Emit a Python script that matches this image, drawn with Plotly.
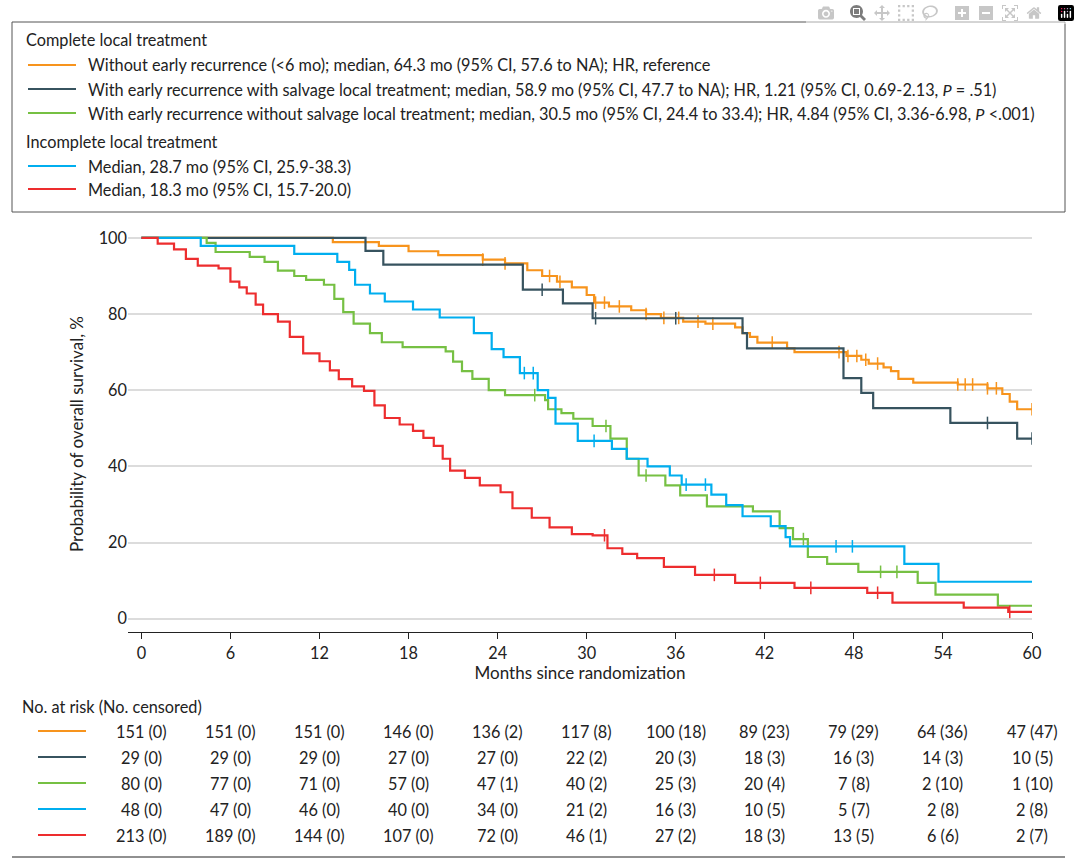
import numpy as np
import plotly.graph_objects as go

# Kaplan-Meier step points (month, survival %)
orange_t = [0, 12.9, 16, 18, 20, 23, 24.5, 26, 27, 28, 29, 30, 30.5, 31.5, 33, 34, 35, 36.5, 38, 40, 40.5, 41, 41.5, 43.5, 44, 47.5, 48.5, 49, 50, 50.5, 51, 52, 55, 57, 58, 58.5, 59, 60]
orange_s = [100, 98.9, 97.9, 96.5, 95.5, 94.3, 93.3, 91.5, 90, 88.5, 87, 85, 83, 82, 81, 80, 79, 78, 77.5, 76.5, 75, 74, 72.5, 71, 70, 69, 68, 67, 66, 65, 63, 62, 61.5, 60.5, 59, 57, 55, 55]
navy_t = [0, 15.1, 16.3, 25.7, 28.4, 30.4, 40.5, 40.8, 47.3, 48.5, 49.3, 54.5, 59, 60]
navy_s = [100, 96.6, 93, 86.4, 82.8, 78.9, 75, 71, 63.2, 59.3, 55.3, 51.4, 47.3, 47.3]
green_t = [0, 4.4, 5, 7.3, 8.3, 9.2, 10.3, 11.1, 12.3, 13, 13.6, 14.3, 15.4, 16.2, 17.6, 20.5, 21, 21.6, 22.3, 23.4, 24.5, 27.2, 27.4, 28.3, 29.1, 30.4, 31.6, 32.7, 33.5, 35.3, 36.3, 38.1, 41.2, 43, 43.9, 44.9, 46.2, 48.3, 52.3, 53.5, 57.7, 60]
green_s = [100, 98.7, 96.3, 95, 93.7, 91.4, 90, 89, 87.7, 84, 80.5, 77.5, 75, 72.6, 71.3, 70.2, 67.5, 65, 63, 60, 58.7, 57.4, 55, 54, 52.5, 50.6, 47.3, 42, 37.6, 35, 32.4, 29.5, 28.2, 23.8, 20.9, 16.2, 14.4, 12.3, 9.4, 6.3, 3.4, 3.4]
blue_t = [0, 4, 10.3, 13.2, 14, 14.4, 15.4, 16.4, 18.3, 20.1, 22.4, 23.6, 24.4, 25.5, 26.7, 27.4, 27.9, 29.4, 31.7, 32.7, 34.1, 35.6, 36.4, 38.4, 39.4, 40.5, 42.4, 43.4, 43.7, 51.4, 53.7, 60]
blue_s = [100, 97.9, 95.8, 93.7, 91.6, 87.7, 85.4, 83.3, 81.2, 79.1, 75, 70.8, 68.7, 64.5, 60, 58, 51.2, 46.7, 44.6, 42, 40, 37.6, 35.2, 32.6, 29.8, 26.9, 24.3, 21.4, 19, 14.4, 9.7, 9.7]
red_t = [0, 1.1, 2.2, 3, 3.8, 5.2, 6, 6.6, 7.1, 7.7, 8.2, 9.2, 10, 10.9, 12, 12.7, 13.3, 14.2, 15, 15.7, 16.4, 17.4, 18.3, 19, 19.7, 20.3, 20.8, 21.8, 22.8, 24.2, 25, 26.3, 27.5, 29, 30.4, 31.4, 32.4, 33.4, 35.2, 37.3, 40, 44, 48.9, 50.6, 55.4, 58.4, 60]
red_s = [100, 98.5, 97, 94.5, 92.7, 92, 88.5, 87, 85.4, 82.5, 80, 78, 74, 69.7, 67.6, 65.2, 62.9, 61, 59.8, 56, 52.7, 51, 49.3, 47.5, 45.4, 42, 38.9, 37, 35, 33.2, 29, 26.5, 24, 22.2, 21.9, 18.5, 17, 15.9, 13.6, 11.5, 9.4, 8.1, 6.8, 4.2, 2.9, 1.8, 1.8]

orange_cens = [23, 24.5, 27.5, 28.2, 30.6, 31.2, 32.2, 34, 35.2, 36.2, 37.5, 38.5, 42.5, 47, 47.6, 48.2, 48.8, 49.6, 55, 55.5, 56, 57, 57.6, 60]
navy_cens = [27, 30.6, 36, 57, 60]
green_cens = [26.5, 31.3, 34, 44.6, 49.8, 50.9]
blue_cens = [25.8, 26.4, 30.5, 36.7, 38, 46.8, 47.9]
red_cens = [31.2, 38.6, 41.7, 45.1, 49.6, 58.5]

colors = ["#f7941d", "#37535f", "#76c043", "#00aeef", "#ed2d2e"]
series = [(orange_t, orange_s, orange_cens), (navy_t, navy_s, navy_cens), (green_t, green_s, green_cens),
          (blue_t, blue_s, blue_cens), (red_t, red_s, red_cens)]

legend_titles = ["Complete local treatment", "Incomplete local treatment"]
legend_labels = [
    "Without early recurrence (<6 mo); median, 64.3 mo (95% CI, 57.6 to NA); HR, reference",
    "With early recurrence with salvage local treatment; median, 58.9 mo (95% CI, 47.7 to NA); HR, 1.21 (95% CI, 0.69-2.13, <i>P</i> = .51)",
    "With early recurrence without salvage local treatment; median, 30.5 mo (95% CI, 24.4 to 33.4); HR, 4.84 (95% CI, 3.36-6.98, <i>P</i> <.001)",
    "Median, 28.7 mo (95% CI, 25.9-38.3)",
    "Median, 18.3 mo (95% CI, 15.7-20.0)",
]

risk_times = [0, 6, 12, 18, 24, 30, 36, 42, 48, 54, 60]
risk_rows = [
    ["151 (0)", "151 (0)", "151 (0)", "146 (0)", "136 (2)", "117 (8)", "100 (18)", "89 (23)", "79 (29)", "64 (36)", "47 (47)"],
    ["29 (0)", "29 (0)", "29 (0)", "27 (0)", "27 (0)", "22 (2)", "20 (3)", "18 (3)", "16 (3)", "14 (3)", "10 (5)"],
    ["80 (0)", "77 (0)", "71 (0)", "57 (0)", "47 (1)", "40 (2)", "25 (3)", "20 (4)", "7 (8)", "2 (10)", "1 (10)"],
    ["48 (0)", "47 (0)", "46 (0)", "40 (0)", "34 (0)", "21 (2)", "16 (3)", "10 (5)", "5 (7)", "2 (8)", "2 (8)"],
    ["213 (0)", "189 (0)", "144 (0)", "107 (0)", "72 (0)", "46 (1)", "27 (2)", "18 (3)", "13 (5)", "6 (6)", "2 (7)"],
]

FONT = "Lato, sans-serif"
FS = 16.3
W, H = 1080, 866
L, R, T, B = 128, 1032, 236, 632

def px(x):
    return (x - L) / (R - L)

def py(y):
    return (B - y) / (B - T)

fig = go.Figure()
for (t, s, cens), c in zip(series, colors):
    fig.add_trace(go.Scatter(x=t, y=s, mode="lines", line=dict(color=c, width=2.2, shape="hv"),
                             showlegend=False, hoverinfo="skip"))
    ta, sa = np.array(t), np.array(s)
    cy = [sa[np.searchsorted(ta, x, side="right") - 1] for x in cens]
    fig.add_trace(go.Scatter(x=cens, y=cy, mode="markers",
                             marker=dict(symbol="line-ns", size=9, line=dict(color=c, width=1.5)),
                             showlegend=False, hoverinfo="skip"))

shapes = []
ann = []
# legend box
shapes.append(dict(type="rect", xref="paper", yref="paper", x0=px(12), x1=px(1065), y0=py(212), y1=py(22),
                   line=dict(color="#555", width=1), fillcolor="white"))
rows_y = [65, 89, 113, 166, 189]
for yy, c, lab in zip(rows_y, colors, legend_labels):
    shapes.append(dict(type="line", xref="paper", yref="paper", x0=px(28), x1=px(76), y0=py(yy), y1=py(yy),
                       line=dict(color=c, width=2.2)))
    ann.append(dict(x=px(86), y=py(yy), xref="paper", yref="paper", text=lab, showarrow=False,
                    xanchor="left", yanchor="middle", font=dict(size=FS, color="#222", family=FONT)))
for yy, title in zip([39, 141], legend_titles):
    ann.append(dict(x=px(24), y=py(yy), xref="paper", yref="paper", text=title, showarrow=False,
                    xanchor="left", yanchor="middle", font=dict(size=FS, color="#222", family=FONT)))

# risk table
ann.append(dict(x=px(20), y=py(706), xref="paper", yref="paper", text="No. at risk (No. censored)",
                showarrow=False, xanchor="left", yanchor="middle", font=dict(size=FS, color="#222", family=FONT)))
for j, (row, c) in enumerate(zip(risk_rows, colors)):
    yy = 731 + 26 * j
    shapes.append(dict(type="line", xref="paper", yref="paper", x0=px(38), x1=px(86), y0=py(yy), y1=py(yy),
                       line=dict(color=c, width=2.2)))
    for tm, v in zip(risk_times, row):
        ann.append(dict(x=tm, y=py(yy), xref="x", yref="paper", text=v, showarrow=False,
                        xanchor="center", yanchor="middle", font=dict(size=FS, color="#222", family=FONT)))
shapes.append(dict(type="line", xref="paper", yref="paper", x0=px(12), x1=px(1065), y0=py(857), y1=py(857),
                   line=dict(color="#222", width=1.2)))

fig.update_layout(
    width=W, height=H, margin=dict(l=L, r=W - R, t=T, b=H - B),
    paper_bgcolor="white", plot_bgcolor="white",
    font=dict(family=FONT, size=FS, color="#222"),
    shapes=shapes, annotations=ann,
    xaxis=dict(range=[-0.9, 60], tickvals=risk_times, showgrid=False, zeroline=False,
               showline=True, linecolor="#222", linewidth=1.2, ticks="outside", ticklen=6,
               tickcolor="#222", tickfont=dict(size=FS),
               title=dict(text="Months since randomization", standoff=4, font=dict(size=17))),
    yaxis=dict(range=[-3.5, 100.5], tickvals=[0, 20, 40, 60, 80, 100], showgrid=True, gridcolor="#dcdcdc",
               gridwidth=1.5, zeroline=False, showline=False, ticks="", tickfont=dict(size=FS),
               title=dict(text="Probability of overall survival, %", standoff=10, font=dict(size=17))),
)

fig.write_html("out.html", post_script="document.body.style.margin='0';document.body.style.overflow='hidden';")
